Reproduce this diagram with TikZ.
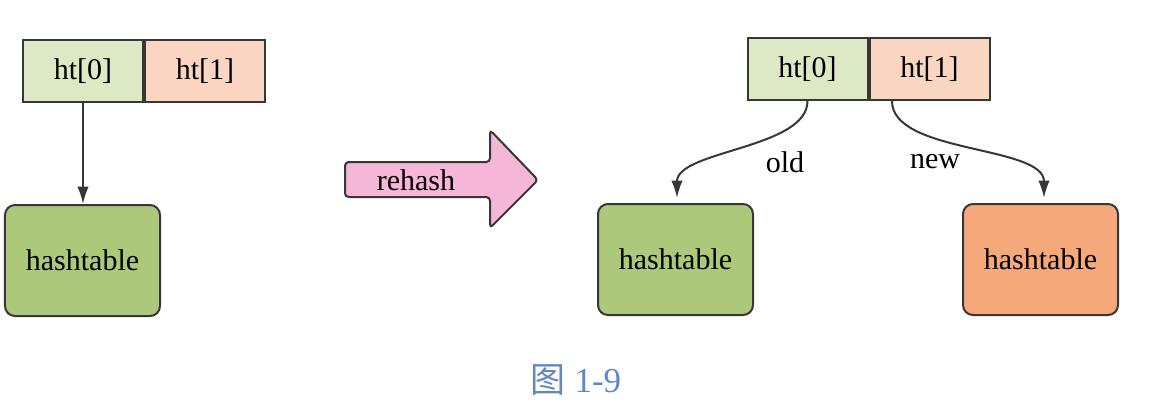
\documentclass[tikz,border=0pt]{standalone}
\usepackage{fontspec}
\setmainfont{Liberation Serif}
\newfontfamily\cjk{Noto Sans CJK SC}
\usepackage{xcolor}
\usepackage{tikz}
\usetikzlibrary{arrows.meta, positioning}
\definecolor{slotgreen}{RGB}{221,232,196}
\definecolor{slotpeach}{RGB}{250,214,194}
\definecolor{tablegreen}{RGB}{172,200,122}
\definecolor{tableorange}{RGB}{245,168,122}
\definecolor{rehashpink}{RGB}{246,182,216}
\definecolor{edgegray}{RGB}{55,55,55}
\definecolor{captionblue}{RGB}{96,136,196}
\tikzstyle{slot} = [draw=edgegray, line width=0.8pt, minimum width=48pt, minimum height=24.8pt, inner sep=0pt, font=\fontsize{12}{14}\selectfont]
\tikzstyle{table} = [draw=edgegray, line width=0.8pt, rounded corners=4pt, minimum width=62pt, minimum height=44.4pt, inner sep=0pt, font=\fontsize{12}{14}\selectfont]
\tikzstyle{arrow} = [line width=0.8pt, draw=edgegray, -{Latex[length=7pt,width=4.6pt]}]

\begin{document}
\begin{tikzpicture}[x=0.4pt, y=-0.4pt]
\useasboundingbox (0,0) rectangle (1162,409);

% before rehash
\node[slot, fill=slotgreen] (leftht0) at (83,71) {ht[0]};
\node[slot, fill=slotpeach, right=0pt of leftht0] (leftht1) {ht[1]};
\node[table, fill=tablegreen] (lefttable) at (82.5,260.5) {hashtable};
\draw[arrow] (leftht0.south) -- (leftht0.south |- lefttable.north);

% the big arrow
\draw[draw=edgegray, line width=0.8pt, fill=rehashpink, rounded corners=1.5pt]
(345,162) -- (490,162) -- (490,130) -- (538,180) -- (490,228) -- (490,197) -- (345,197) -- cycle;
\node[font=\fontsize{12}{14}\selectfont] (rehash) at (416,180) {rehash};

% after rehash
\node[slot, fill=slotgreen] (rightht0) at (807.5,69) {ht[0]};
\node[slot, fill=slotpeach, right=0pt of rightht0] (rightht1) {ht[1]};
\node[table, fill=tablegreen] (oldtable) at (675.5,259.5) {hashtable};
\node[table, fill=tableorange] (newtable) at (1040.5,259.5) {hashtable};
\coordinate (oldend) at (677,198);
\coordinate (newend) at (1044,198);
\draw[arrow] (rightht0.south) to[out=-90, in=90, looseness=0.75] (oldend);
\draw[arrow] ([xshift=-15pt]rightht1.south) to[out=-90, in=90, looseness=0.75] (newend);
\node[font=\fontsize{12}{14}\selectfont] (oldlabel) at (785,162) {old};
\node[font=\fontsize{12}{14}\selectfont] (newlabel) at (935,162) {new};

% caption
\node[text=captionblue, font=\fontsize{14}{16}\selectfont] (caption) at (576,380) {{\cjk 图} 1-9};
\end{tikzpicture}
\end{document}
